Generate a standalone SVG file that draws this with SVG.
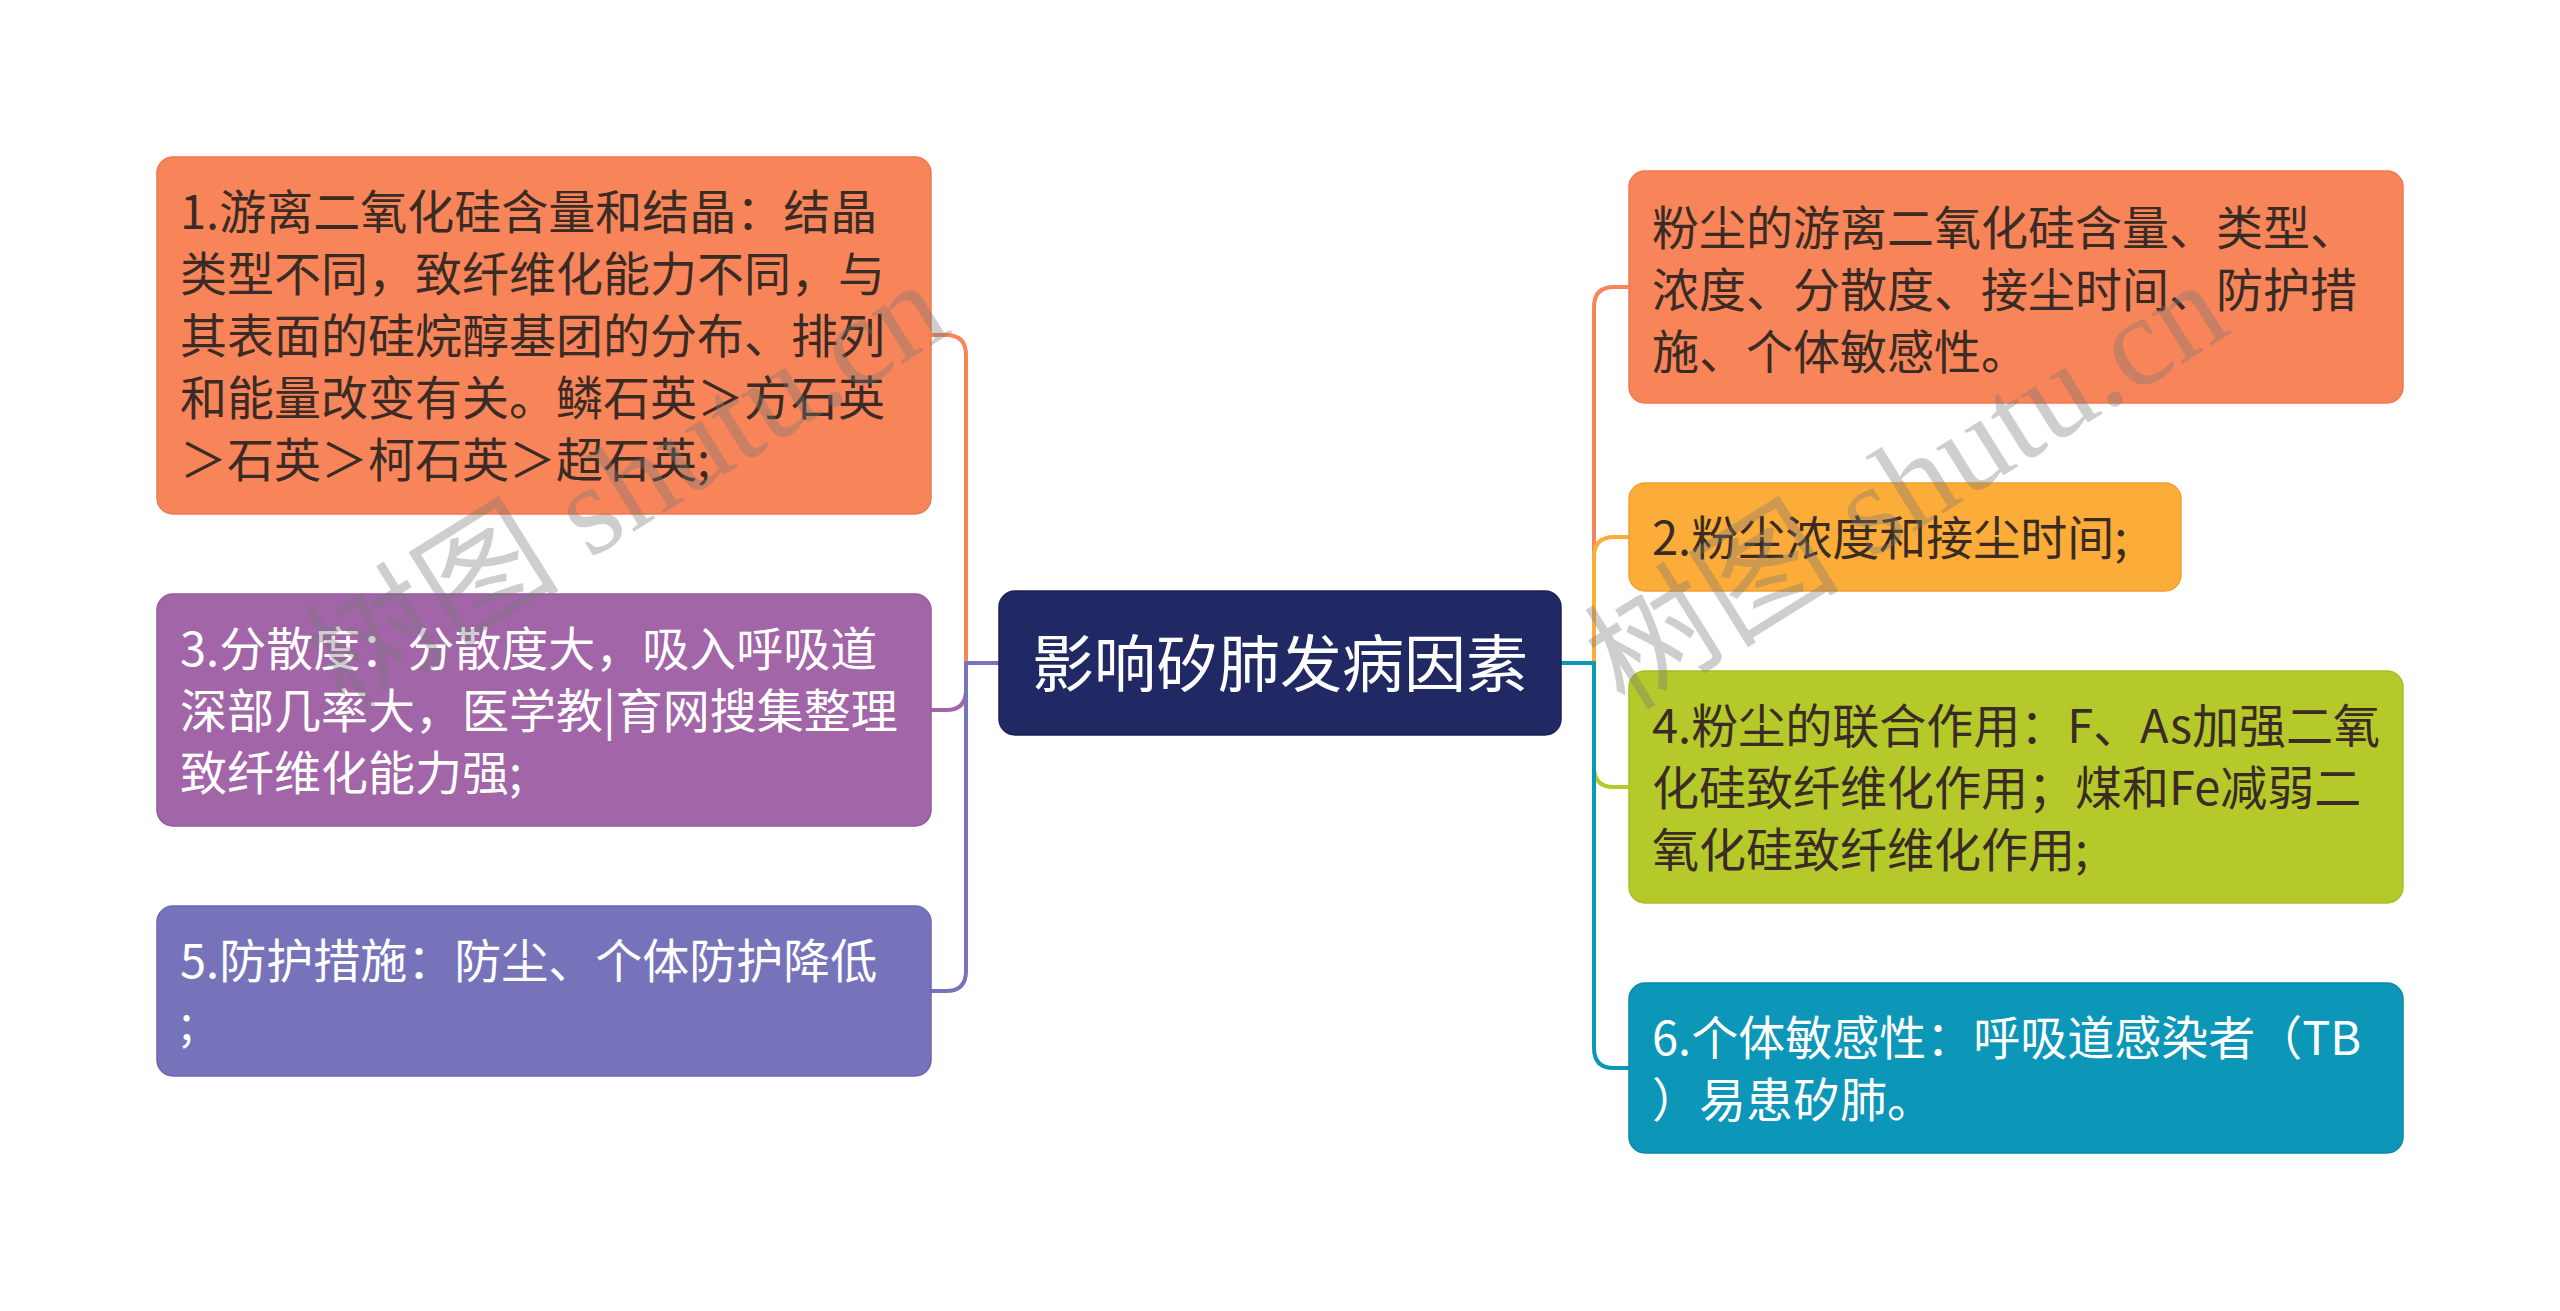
<svg xmlns="http://www.w3.org/2000/svg" width="2560" height="1311" viewBox="0 0 2560 1311">
<style>
.t{font-family:"Noto Sans CJK SC","Noto Sans",sans-serif;font-size:47px;}
.dark{fill:#3A2C24;}
.light{fill:#FFFFFF;}
.c{fill:none;stroke-width:4;stroke-linecap:round;stroke-linejoin:round;}
.wm{font-family:"Liberation Serif","Noto Sans CJK SC",serif;font-size:128px;fill:#777777;fill-opacity:0.36;}
</style>
<rect width="2560" height="1311" fill="#FFFFFF"/>
<g id="connectors">
<path class="c" stroke="#F8845A" d="M999,663 H966 V355 Q966,335 946,335 H931"/>
<path class="c" stroke="#A165A8" d="M999,663 H966 V690 Q966,710 946,710 H931"/>
<path class="c" stroke="#7673BB" d="M999,663 H966 V971 Q966,991 946,991 H931"/>
<path class="c" stroke="#F8845A" d="M1561,663 H1594 V307 Q1594,287 1614,287 H1629"/>
<path class="c" stroke="#FCAC38" d="M1561,663 H1594 V557 Q1594,537 1614,537 H1629"/>
<path class="c" stroke="#B5C92B" d="M1561,663 H1594 V767 Q1594,787 1614,787 H1629"/>
<path class="c" stroke="#0C96B7" d="M1561,663 H1594 V1048 Q1594,1068 1614,1068 H1629"/>
</g>
<g id="center">
<rect x="999" y="591" width="562" height="144" rx="16" fill="#212965" stroke="#1b2257" stroke-width="1.5"/>
<text class="t light" x="1280" y="687" text-anchor="middle" style="font-size:62px">影响矽肺发病因素</text>
</g>
<g id="node1">
<rect x="157" y="157" width="774" height="357" rx="16" fill="#F8845A" stroke="#ee7850" stroke-width="1.5"/>
<text class="t dark"><tspan x="180" y="229">1.游离二氧化硅含量和结晶：结晶</tspan><tspan x="180" y="291">类型不同，致纤维化能力不同，与</tspan><tspan x="180" y="353">其表面的硅烷醇基团的分布、排列</tspan><tspan x="180" y="415">和能量改变有关。鳞石英＞方石英</tspan><tspan x="180" y="477">＞石英＞柯石英＞超石英;</tspan></text>
</g>
<g id="node3">
<rect x="157" y="594" width="774" height="232" rx="16" fill="#A165A8" stroke="#955a9c" stroke-width="1.5"/>
<text class="t light"><tspan x="180" y="666">3.分散度：分散度大，吸入呼吸道</tspan><tspan x="180" y="728">深部几率大，医学教|育网搜集整理</tspan><tspan x="180" y="790">致纤维化能力强;</tspan></text>
</g>
<g id="node5">
<rect x="157" y="906" width="774" height="170" rx="16" fill="#7673BB" stroke="#6a67b0" stroke-width="1.5"/>
<text class="t light"><tspan x="180" y="978">5.防护措施：防尘、个体防护降低</tspan><tspan x="180" y="1040">;</tspan></text>
</g>
<g id="nodeA">
<rect x="1629" y="171" width="774" height="232" rx="16" fill="#F8845A" stroke="#ee7850" stroke-width="1.5"/>
<text class="t dark"><tspan x="1652" y="245">粉尘的游离二氧化硅含量、类型、</tspan><tspan x="1652" y="307">浓度、分散度、接尘时间、防护措</tspan><tspan x="1652" y="369">施、个体敏感性。</tspan></text>
</g>
<g id="node2">
<rect x="1629" y="483" width="552" height="108" rx="16" fill="#FCAC38" stroke="#f0a030" stroke-width="1.5"/>
<text class="t dark" x="1652" y="555">2.粉尘浓度和接尘时间;</text>
</g>
<g id="node4">
<rect x="1629" y="671" width="774" height="232" rx="16" fill="#B5C92B" stroke="#a9bd25" stroke-width="1.5"/>
<text class="t dark"><tspan x="1652" y="743">4.粉尘的联合作用：F、As加强二氧</tspan><tspan x="1652" y="805">化硅致纤维化作用；煤和Fe减弱二</tspan><tspan x="1652" y="867">氧化硅致纤维化作用;</tspan></text>
</g>
<g id="node6">
<rect x="1629" y="983" width="774" height="170" rx="16" fill="#0C96B7" stroke="#0a8aa9" stroke-width="1.5"/>
<text class="t light"><tspan x="1652" y="1055">6.个体敏感性：呼吸道感染者（TB</tspan><tspan x="1652" y="1117">）易患矽肺。</tspan></text>
</g>
<g id="watermarks">
<text class="wm" transform="translate(345,712) rotate(-32)">树图 shutu.cn</text>
<text class="wm" transform="translate(1625,712) rotate(-32)">树图 shutu.cn</text>
</g>
</svg>
